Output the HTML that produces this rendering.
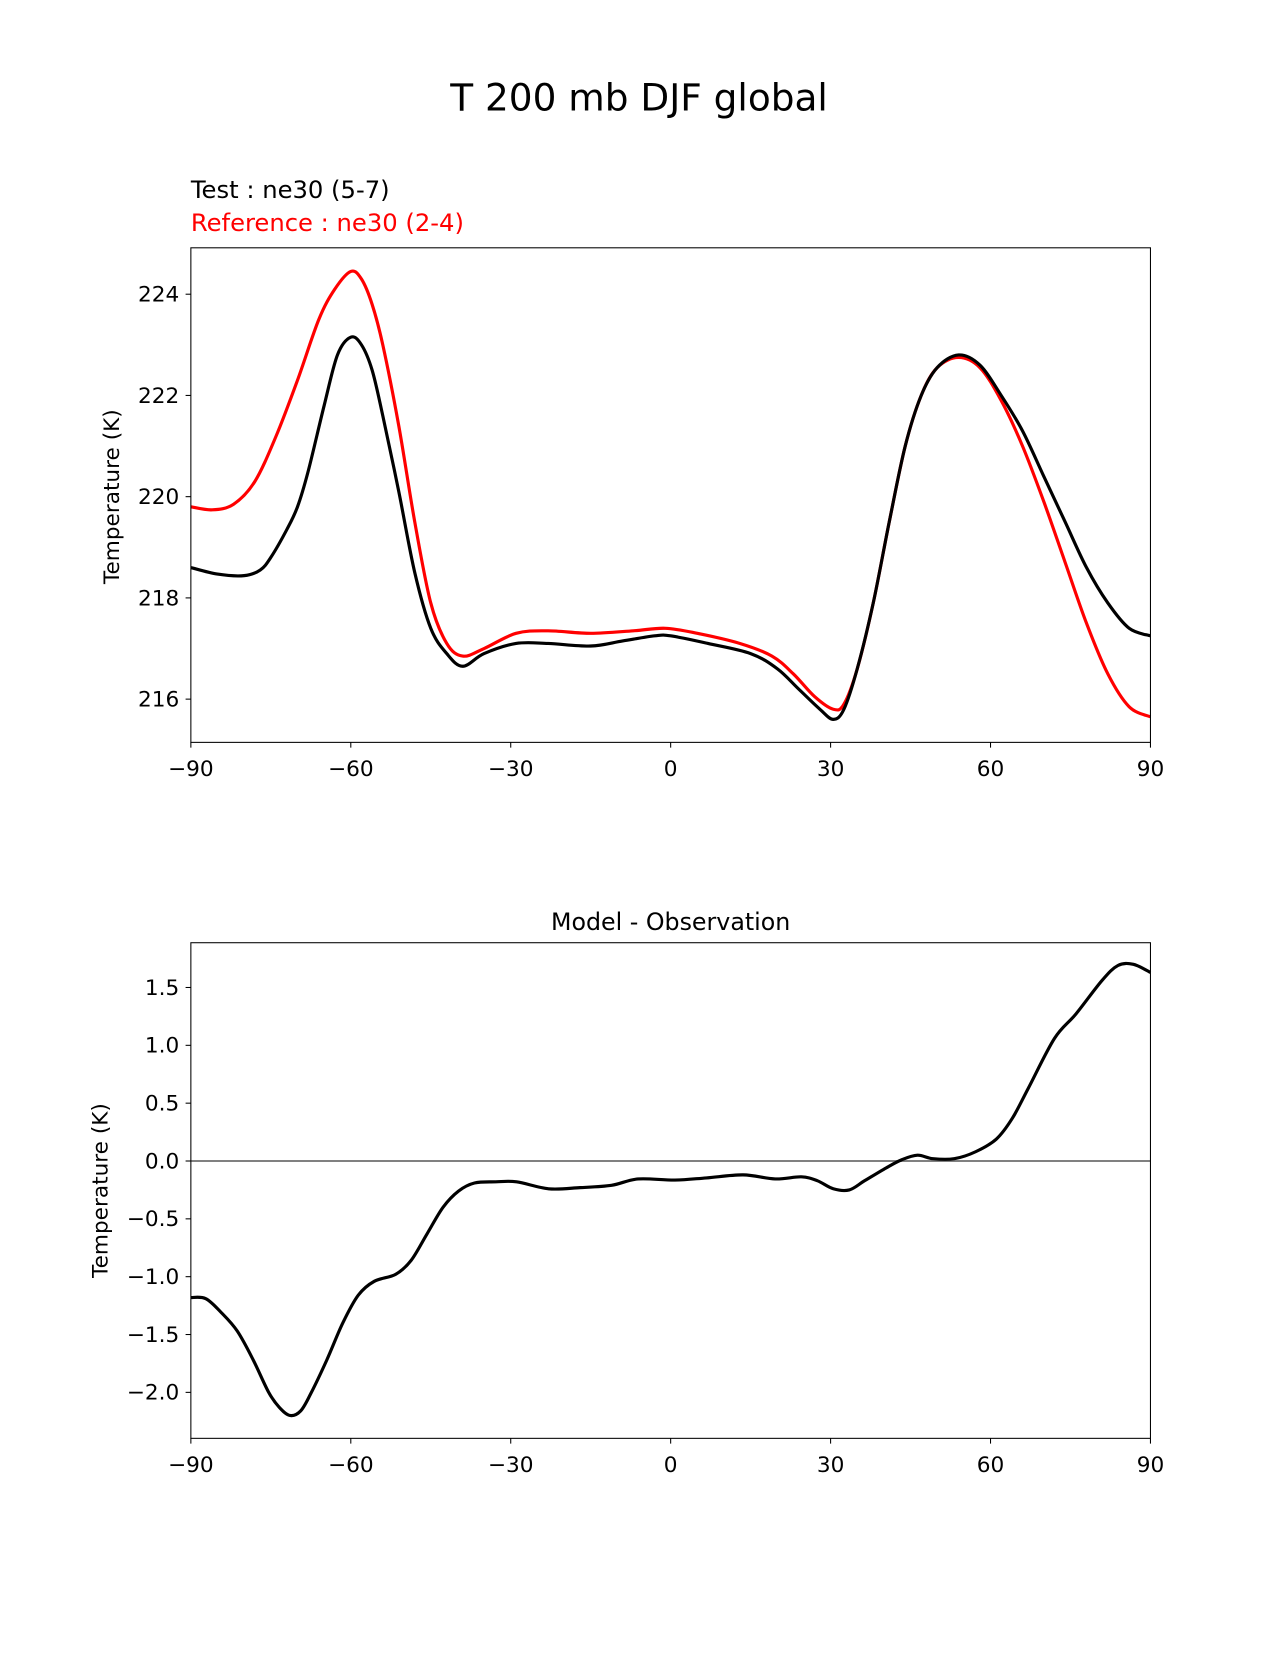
<!DOCTYPE html>
<html><head><meta charset="utf-8"><style>
body{margin:0;background:#fff}
svg text{font-family:"DejaVu Sans","Liberation Sans",sans-serif}
</style></head><body>
<svg id="c" width="1275" height="1650" xmlns="http://www.w3.org/2000/svg">
<rect width="1275" height="1650" fill="#fff"/>
<g transform="scale(1.0545)">
<text x="606" y="105" font-size="35.5" text-anchor="middle">T 200 mb DJF global</text>
<text x="181" y="188" font-size="23">Test : ne30 (5-7)</text>
<text x="181" y="219" font-size="23" fill="#ff0000">Reference : ne30 (2-4)</text>
<text x="636" y="882" font-size="22.5" text-anchor="middle">Model - Observation</text>
<g id="top"></g><g id="bot"></g>
</g>
</svg>
<script>
const xTicks=[-90,-60,-30,0,30,60,90];
const topYTicks=[216,218,220,222,224];
const botYTicks=[-2.0,-1.5,-1.0,-0.5,0.0,0.5,1.0,1.5];
const testLat=[-90,-85,-80,-77,-75,-72,-70,-68,-65,-62.5,-60,-58,-56,-54,-51,-48,-45,-42,-39,-35,-29,-23,-15,-9,-3,0,7,15,20,24,28,30.5,32.5,35,38,41,44,47,50,54,58,62,66,70,74,78,82,86,90];
const testVal=[218.6,218.47,218.44,218.55,218.8,219.35,219.8,220.5,221.8,222.8,223.15,223.0,222.5,221.6,220.1,218.5,217.4,216.9,216.65,216.9,217.1,217.1,217.05,217.15,217.25,217.25,217.1,216.9,216.6,216.2,215.8,215.6,215.8,216.6,217.9,219.5,221.0,222.0,222.55,222.8,222.6,222.0,221.3,220.4,219.5,218.6,217.9,217.4,217.25];
const refLat=[-90,-86,-82,-78,-74,-70,-66,-63,-60,-58,-56,-54,-51,-48,-45,-42,-39,-35,-29,-23,-15,-7,-1,5,13,19,23,27,30.5,32.5,35,38,41,44,47,50,54,58,62,66,70,74,78,82,86,90];
const refVal=[219.8,219.74,219.85,220.3,221.2,222.3,223.5,224.1,224.45,224.3,223.8,223.0,221.4,219.5,217.9,217.1,216.85,217.0,217.3,217.35,217.3,217.35,217.4,217.3,217.1,216.85,216.5,216.05,215.8,215.9,216.6,217.9,219.5,221.0,222.0,222.55,222.75,222.55,221.9,221.0,219.9,218.7,217.5,216.5,215.85,215.65];
const diffLat=[-90,-87.2,-84.3,-81.3,-78.3,-75.4,-73.4,-71.4,-69.4,-67.5,-64.5,-61.5,-58.6,-55.6,-51.6,-48.7,-45.7,-42.7,-39.8,-36.8,-32.8,-28.9,-22.9,-17,-11.1,-6.1,0.8,6.7,13.6,19.6,24.5,27.5,30.5,33.5,36.4,40.4,43.3,46.3,49.2,53.2,57.2,61.1,64.1,67.1,72,76,80.9,83.9,86.8,90];
const diffVal=[-1.18,-1.19,-1.31,-1.47,-1.72,-2.0,-2.13,-2.2,-2.16,-2.01,-1.72,-1.4,-1.16,-1.04,-0.98,-0.86,-0.63,-0.4,-0.26,-0.19,-0.18,-0.18,-0.24,-0.23,-0.21,-0.155,-0.165,-0.146,-0.12,-0.155,-0.137,-0.17,-0.24,-0.25,-0.17,-0.06,0.01,0.05,0.02,0.02,0.08,0.19,0.37,0.63,1.06,1.27,1.56,1.69,1.7,1.63];
const NS='http://www.w3.org/2000/svg';
function mk(p,t,a,txt){const e=document.createElementNS(NS,t);for(const k in a)e.setAttribute(k,a[k]);if(txt!==undefined)e.textContent=txt;p.appendChild(e);return e;}
const xS=v=>181+(v+90)*910/180;
function panel(g,top,bot,yS,yTicks,fmt,name){
  for(const t of xTicks){
    const l=mk(g,'line',{x1:xS(t),x2:xS(t),y1:bot,y2:bot+5,stroke:'#000'});
    
    
    const tx=mk(g,'text',{x:xS(t),y:bot+32,'font-size':20.5,'text-anchor':'middle'},t<0?'\u2212'+(-t):String(t));
    
    
  }
  for(const t of yTicks){
    const y=yS(t);
    const l=mk(g,'line',{x1:176,x2:181,y1:y,y2:y,stroke:'#000'});
    
    
    const tx=mk(g,'text',{x:170,y:y+7,'font-size':20.5,'text-anchor':'end'},fmt(t));
    
    
  }
}
function line(g,lat,val,yS,color,name){
  const P=lat.map((a,i)=>[xS(a),yS(val[i])]);
  let d='M'+P[0][0]+','+P[0][1];
  for(let i=0;i<P.length-1;i++){
    const p0=P[Math.max(0,i-1)],p1=P[i],p2=P[i+1],p3=P[Math.min(P.length-1,i+2)];
    const c1=[p1[0]+(p2[0]-p0[0])/6,p1[1]+(p2[1]-p0[1])/6];
    const c2=[p2[0]-(p3[0]-p1[0])/6,p2[1]-(p3[1]-p1[1])/6];
    d+=' C'+c1[0]+','+c1[1]+' '+c2[0]+','+c2[1]+' '+p2[0]+','+p2[1];
  }
  const p=mk(g,'path',{d:d,fill:'none',stroke:color,'stroke-width':3,'stroke-linejoin':'round'});
  
  
}
const gt=document.getElementById('top');
const yT=v=>471-(v-220)*48;
panel(gt,235,704,yT,topYTicks,t=>String(t),'top');
line(gt,refLat,refVal,yT,'#ff0000','reference-line');
line(gt,testLat,testVal,yT,'#000','test-line');
let r=mk(gt,'rect',{x:181,y:235,width:910,height:469,fill:'none',stroke:'#000'});


let yl=mk(gt,'text',{transform:'translate(113,471) rotate(-90)','font-size':20.5,'text-anchor':'middle'},'Temperature (K)');


const gb=document.getElementById('bot');
const yB=v=>1101-v*109.7;
panel(gb,894,1364,yB,botYTicks,t=>(t<0?'\u2212':'')+Math.abs(t).toFixed(1),'bottom');
let z=mk(gb,'line',{x1:181,x2:1091,y1:yB(0),y2:yB(0),stroke:'#808080','stroke-width':2});


line(gb,diffLat,diffVal,yB,'#000','difference-line');
r=mk(gb,'rect',{x:181,y:894,width:910,height:470,fill:'none',stroke:'#000'});


yl=mk(gb,'text',{transform:'translate(102,1129) rotate(-90)','font-size':20.5,'text-anchor':'middle'},'Temperature (K)');


</script>
</body></html>
